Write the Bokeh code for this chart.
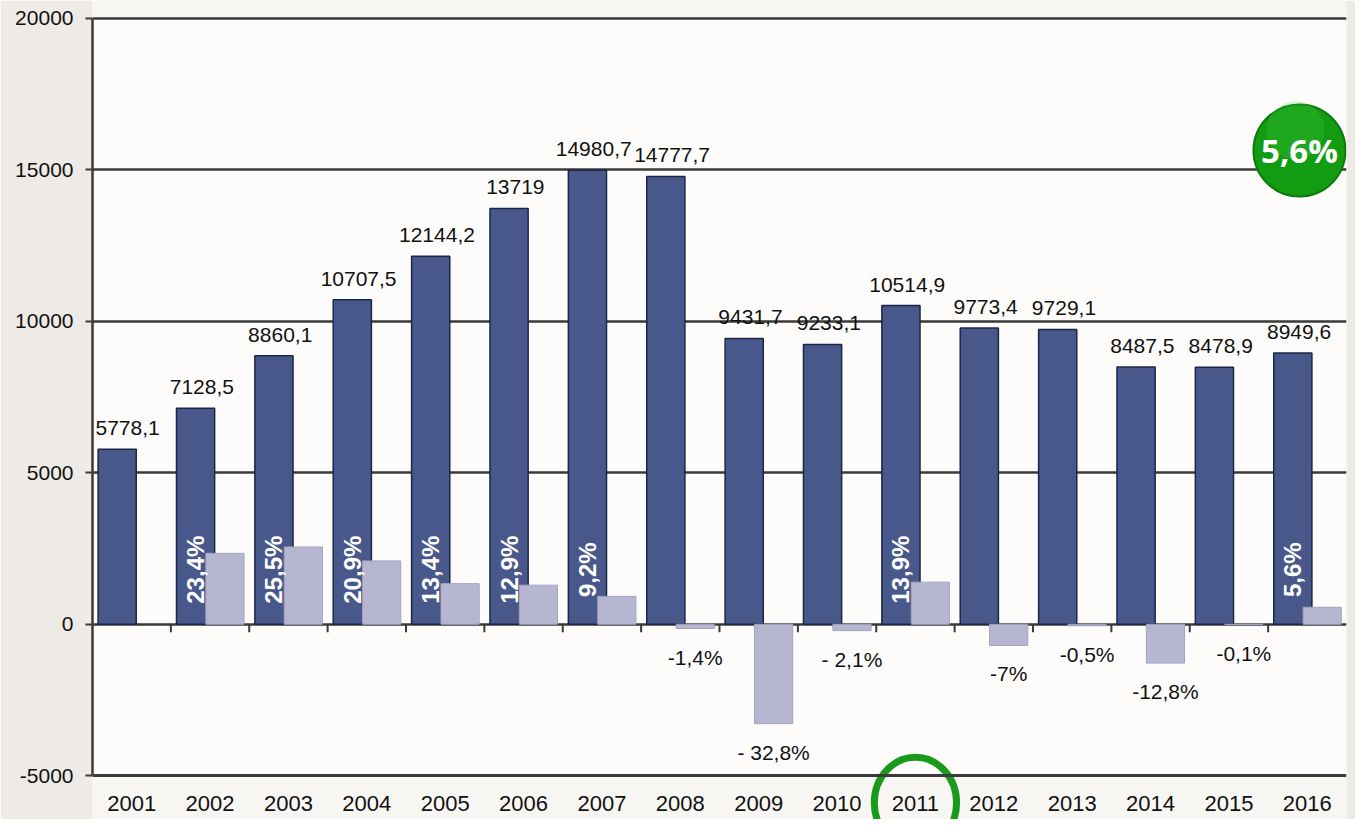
import numpy as np
from bokeh.plotting import figure
from bokeh.models import ColumnDataSource, Range1d, FixedTicker, LinearAxis, NumeralTickFormatter, BoxAnnotation
from bokeh.core.properties import value
from bokeh.embed import file_html
from bokeh.resources import INLINE

# ---------------- data ----------------
years = [2001, 2002, 2003, 2004, 2005, 2006, 2007, 2008,
         2009, 2010, 2011, 2012, 2013, 2014, 2015, 2016]
production = [5778.1, 7128.5, 8860.1, 10707.5, 12144.2, 13719.0, 14980.7, 14777.7,
              9431.7, 9233.1, 10514.9, 9773.4, 9729.1, 8487.5, 8478.9, 8949.6]
growth_pct = [np.nan, 23.4, 25.5, 20.9, 13.4, 12.9, 9.2, -1.4,
              -32.8, -2.1, 13.9, -7.0, -0.5, -12.8, -0.1, 5.6]
growth_labels = ["", "23,4%", "25,5%", "20,9%", "13,4%", "12,9%", "9,2%", "-1,4%",
                 "- 32,8%", "- 2,1%", "13,9%", "-7%", "-0,5%", "-12,8%", "-0,1%", "5,6%"]
y_ticks = [-5000, 0, 5000, 10000, 15000, 20000]
grid_ticks = [0, 5000, 10000, 15000, 20000]
highlight_year = 2011
badge_text = "5,6%"
growth_scale = 100.0  # growth bar height = percent * 100

# ---------------- styling ----------------
FONT_NAME = "Liberation Sans"
FONT = value(FONT_NAME)
DARK = "#48588a"
DARK_LINE = "#1c2646"
LIGHT = "#b6b6d1"
LIGHT_LINE = "#a2a3c2"
GRID = "#3a3a3a"
TXT = "#111111"
VAL_PX = 21

n = len(years)
idx = np.arange(n, dtype=float)
dark_x = idx - 0.185
light_x = idx + 0.19
bar_w = 0.487

W, H = 1355, 819
BL, BR = 92, 9
cat_px = (W - BL - BR) / n
x0, x1 = -0.5, n - 0.5
y_lo, y_hi = -6442, 20581


def fmt_val(v):
    s = ("%.1f" % v)
    if s.endswith(".0"):
        s = s[:-2]
    return s.replace(".", ",")


def est_width_px(s, px):
    em = sum(0.278 if c in ",." else (0.889 if c == "%" else 0.556) for c in s)
    return em * px


gp = np.array(growth_pct, dtype=float)
growth_h = gp * growth_scale

val_labels = [fmt_val(v) for v in production]
# value labels sit a little right of the dark bar, kept inside the plotting area
val_x = [max(dx + 0.08, x0 + (est_width_px(s, VAL_PX) / 2 + 3) / cat_px)
         for dx, s in zip(dark_x, val_labels)]

src_dark = ColumnDataSource(dict(x=dark_x, top=production))
src_vlab = ColumnDataSource(dict(x=val_x, y=production, label=val_labels))
src_light = ColumnDataSource(dict(x=light_x, top=growth_h))

pos = [i for i in range(n) if not np.isnan(gp[i]) and gp[i] > 0]
neg = [i for i in range(n) if not np.isnan(gp[i]) and gp[i] < 0]
src_pos = ColumnDataSource(dict(x=dark_x[pos], y=[1800.0] * len(pos),
                                label=[growth_labels[i] for i in pos]))
src_neg = ColumnDataSource(dict(x=light_x[neg], y=growth_h[neg],
                                label=[growth_labels[i] for i in neg]))

p = figure(width=W, height=H,
           x_range=Range1d(x0, x1), y_range=Range1d(y_lo, y_hi),
           output_backend="svg", toolbar_location=None,
           x_axis_location=None,
           min_border_left=BL, min_border_right=BR, min_border_top=0, min_border_bottom=0,
           background_fill_color="#f8f6f3", border_fill_color="#eeebe7",
           outline_line_color=None)

# lighter plot area
p.add_layout(BoxAnnotation(left=x0, right=x1, bottom=y_ticks[0], top=y_ticks[-1],
                           fill_color="#fdfcfa", fill_alpha=1.0, line_color=None,
                           level="image"))

# grid
p.xgrid.visible = False
p.ygrid.ticker = FixedTicker(ticks=grid_ticks)
p.ygrid.grid_line_color = GRID
p.ygrid.grid_line_width = 2.5

# y axis
ya = p.yaxis[0]
ya.ticker = FixedTicker(ticks=y_ticks)
ya.bounds = (y_ticks[0], y_ticks[-1])
ya.formatter = NumeralTickFormatter(format="0")
ya.axis_line_color = GRID
ya.axis_line_width = 2.5
ya.major_tick_line_color = GRID
ya.major_tick_line_width = 2
ya.major_tick_in = 0
ya.major_tick_out = 7
ya.minor_tick_line_color = None
ya.major_label_standoff = 12
ya.major_label_text_font = FONT_NAME
ya.major_label_text_font_size = "21px"
ya.major_label_text_color = TXT

# x axis (category labels) fixed at the bottom line
xa = LinearAxis(ticker=FixedTicker(ticks=list(idx)), fixed_location=y_ticks[0],
                major_label_overrides={float(i): str(y) for i, y in enumerate(years)})
xa.axis_line_color = GRID
xa.axis_line_width = 3
xa.major_tick_line_color = None
xa.minor_tick_line_color = None
xa.major_label_standoff = 14
xa.major_label_text_font = FONT_NAME
xa.major_label_text_font_size = "22px"
xa.major_label_text_color = TXT
p.add_layout(xa, "below")

# small category boundary ticks on the zero line
bounds = idx[:-1] + 0.5
p.segment(x0=bounds, x1=bounds, y0=[0] * len(bounds), y1=[-264] * len(bounds),
          line_color=GRID, line_width=2)

# bars
p.vbar(x="x", top="top", bottom=0, width=bar_w, source=src_dark,
       fill_color=DARK, line_color=DARK_LINE, line_width=1.5)
p.vbar(x="x", top="top", bottom=0, width=bar_w, source=src_light,
       fill_color=LIGHT, line_color=LIGHT_LINE, line_width=1)

# value labels above dark bars
p.text(x="x", y="y", text="label", source=src_vlab, text_font=FONT,
       text_font_size="%dpx" % VAL_PX, text_color=TXT, text_align="center",
       text_baseline="bottom", y_offset=-14)

# positive growth labels (rotated, white, inside dark bars)
p.text(x="x", y="y", text="label", source=src_pos, text_font=FONT,
       text_font_size="24px", text_font_style="bold", text_color="white",
       angle=np.pi / 2, text_align="center", text_baseline="middle")

# negative growth labels under light bars
p.text(x="x", y="y", text="label", source=src_neg, text_font=FONT,
       text_font_size="21px", text_color=TXT, text_align="center",
       text_baseline="top", y_offset=17)

# green badge with last growth value
bi = n - 1
bx = idx[bi] - 0.1
p.scatter(x=[bx], y=[15630], size=92, marker="circle",
          fill_color="#129c12", line_color="#0b7a0b", line_width=2)
p.scatter(x=[bx - 0.05], y=[16300], size=58, marker="circle",
          fill_color="#4fd04f", fill_alpha=0.22, line_color=None)
p.text(x=[bx], y=[15630], text=[badge_text], text_font=value("Open Sans"),
       text_font_style="bold", text_font_size="33px", text_color="white",
       text_align="center", text_baseline="middle")

# green ring around highlighted year
hi = years.index(highlight_year)
p.ellipse(x=[idx[hi]], y=[-5890], width=1.05, height=3000,
          fill_color=None, line_color="#1a9a1a", line_width=7)

open("out.html", "w").write(file_html(p, INLINE))
